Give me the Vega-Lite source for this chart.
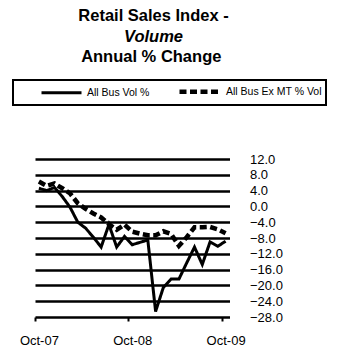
{
  "$schema": "https://vega.github.io/schema/vega-lite/v6.json",
  "padding": {"left": 12, "top": 7, "right": 5, "bottom": 5},
  "title": {"text": "Retail Sales Index -", "subtitle": "Volume", "offset": 3, "anchor": "middle", "dx": -16},
  "data": {"values": [
    {"month": "Oct-07", "series": "All Bus Vol %", "value": 4.6},
    {"month": "Nov-07", "series": "All Bus Vol %", "value": 4.0},
    {"month": "Dec-07", "series": "All Bus Vol %", "value": 4.8},
    {"month": "Jan-08", "series": "All Bus Vol %", "value": 2.5},
    {"month": "Feb-08", "series": "All Bus Vol %", "value": -0.2},
    {"month": "Mar-08", "series": "All Bus Vol %", "value": -4.0},
    {"month": "Apr-08", "series": "All Bus Vol %", "value": -5.5},
    {"month": "May-08", "series": "All Bus Vol %", "value": -7.8},
    {"month": "Jun-08", "series": "All Bus Vol %", "value": -10.3},
    {"month": "Jul-08", "series": "All Bus Vol %", "value": -4.6},
    {"month": "Aug-08", "series": "All Bus Vol %", "value": -10.3},
    {"month": "Sep-08", "series": "All Bus Vol %", "value": -7.6},
    {"month": "Oct-08", "series": "All Bus Vol %", "value": -9.7},
    {"month": "Nov-08", "series": "All Bus Vol %", "value": -9.1},
    {"month": "Dec-08", "series": "All Bus Vol %", "value": -8.5},
    {"month": "Jan-09", "series": "All Bus Vol %", "value": -26.6},
    {"month": "Feb-09", "series": "All Bus Vol %", "value": -20.5},
    {"month": "Mar-09", "series": "All Bus Vol %", "value": -18.4},
    {"month": "Apr-09", "series": "All Bus Vol %", "value": -18.4},
    {"month": "May-09", "series": "All Bus Vol %", "value": -14.3},
    {"month": "Jun-09", "series": "All Bus Vol %", "value": -10.3},
    {"month": "Jul-09", "series": "All Bus Vol %", "value": -14.7},
    {"month": "Aug-09", "series": "All Bus Vol %", "value": -9.0},
    {"month": "Sep-09", "series": "All Bus Vol %", "value": -10.1},
    {"month": "Oct-09", "series": "All Bus Vol %", "value": -8.8},
    {"month": "Oct-07", "series": "All Bus Ex MT % Vol", "value": 6.3},
    {"month": "Nov-07", "series": "All Bus Ex MT % Vol", "value": 5.2},
    {"month": "Dec-07", "series": "All Bus Ex MT % Vol", "value": 5.8},
    {"month": "Jan-08", "series": "All Bus Ex MT % Vol", "value": 4.6},
    {"month": "Feb-08", "series": "All Bus Ex MT % Vol", "value": 3.3},
    {"month": "Mar-08", "series": "All Bus Ex MT % Vol", "value": 0.8},
    {"month": "Apr-08", "series": "All Bus Ex MT % Vol", "value": -0.6},
    {"month": "May-08", "series": "All Bus Ex MT % Vol", "value": -1.8},
    {"month": "Jun-08", "series": "All Bus Ex MT % Vol", "value": -2.8},
    {"month": "Jul-08", "series": "All Bus Ex MT % Vol", "value": -4.5},
    {"month": "Aug-08", "series": "All Bus Ex MT % Vol", "value": -5.9},
    {"month": "Sep-08", "series": "All Bus Ex MT % Vol", "value": -4.6},
    {"month": "Oct-08", "series": "All Bus Ex MT % Vol", "value": -6.4},
    {"month": "Nov-08", "series": "All Bus Ex MT % Vol", "value": -6.9},
    {"month": "Dec-08", "series": "All Bus Ex MT % Vol", "value": -7.3},
    {"month": "Jan-09", "series": "All Bus Ex MT % Vol", "value": -7.3},
    {"month": "Feb-09", "series": "All Bus Ex MT % Vol", "value": -6.3},
    {"month": "Mar-09", "series": "All Bus Ex MT % Vol", "value": -7.0},
    {"month": "Apr-09", "series": "All Bus Ex MT % Vol", "value": -10.0},
    {"month": "May-09", "series": "All Bus Ex MT % Vol", "value": -7.8},
    {"month": "Jun-09", "series": "All Bus Ex MT % Vol", "value": -5.3},
    {"month": "Jul-09", "series": "All Bus Ex MT % Vol", "value": -5.3},
    {"month": "Aug-09", "series": "All Bus Ex MT % Vol", "value": -5.2},
    {"month": "Sep-09", "series": "All Bus Ex MT % Vol", "value": -5.8},
    {"month": "Oct-09", "series": "All Bus Ex MT % Vol", "value": -6.8}
  ]},
  "vconcat": [
    {
      "title": {"text": "Annual % Change", "offset": 88, "dx": 19},
      "width": 194.5,
      "height": 158,
      "mark": {"type": "line", "color": "black", "strokeCap": "butt"},
      "encoding": {
        "x": {
          "field": "month", "type": "ordinal", "sort": null,
          "scale": {"type": "point", "padding": 0.5},
          "axis": {
            "values": ["Oct-07", "Oct-08", "Oct-09"], "title": null, "labelAngle": 0,
            "tickOffset": -3.89, "labelOffset": 3.89, "grid": false, "domain": false,
            "tickSize": 4, "tickWidth": 2, "tickColor": "black",
            "labelFontSize": 13, "labelPadding": 13
          }
        },
        "y": {
          "field": "value", "type": "quantitative",
          "scale": {"domain": [-28, 12], "nice": false, "zero": false},
          "axis": {
            "orient": "right", "values": [-28, -24, -20, -16, -12, -8, -4, 0, 4, 8, 12],
            "format": ".1f", "title": null, "grid": true, "gridColor": "black",
            "gridWidth": 2.5, "gridOpacity": 1, "ticks": false, "domain": false,
            "labelPadding": 20, "labelFontSize": 13, "labelAlign": "left"
          }
        },
        "strokeDash": {
          "field": "series", "type": "nominal",
          "scale": {"domain": ["All Bus Vol %", "All Bus Ex MT % Vol"], "range": [[1, 0], [7, 3.5]]},
          "legend": {
            "orient": "none", "legendX": -22, "legendY": -79, "direction": "horizontal",
            "title": null, "strokeColor": "black", "padding": 4, "gridAlign": "each",
            "symbolType": "M-4,0H4", "symbolSize": 100, "symbolStrokeWidth": 2.5,
            "symbolOffset": 38, "labelOffset": 19, "columnPadding": 4, "labelFontSize": 10.5,
            "labelFont": "Liberation Sans", "labelColor": "black"
          }
        },
        "strokeWidth": {
          "field": "series", "type": "nominal",
          "scale": {"domain": ["All Bus Vol %", "All Bus Ex MT % Vol"], "range": [3, 4.5]},
          "legend": null
        }
      }
    }
  ],
  "config": {
    "font": "Liberation Sans",
    "view": {"stroke": null},
    "concat": {"spacing": 0},
    "legend": {"strokeWidth": 2},
    "title": {
      "fontSize": 16.5, "fontWeight": "bold", "color": "black",
      "subtitleFontSize": 16.5, "subtitleFontWeight": "bold", "subtitleFontStyle": "italic",
      "subtitleColor": "black", "subtitlePadding": 5, "subtitleFont": "Liberation Sans"
    },
    "axis": {"labelFont": "Liberation Sans", "labelColor": "black"}
  }
}
